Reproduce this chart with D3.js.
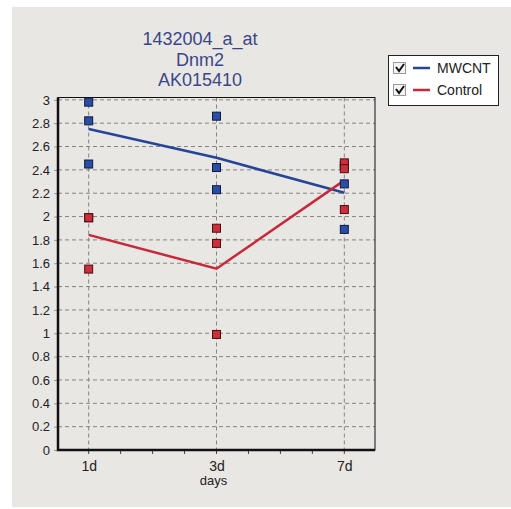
<!DOCTYPE html>
<html>
    <head>
        <meta charset="utf-8">
        <style>
        html, body {
            margin: 0px;
            background: #ffffff;
        }
        svg text {
            font-family: "Liberation Sans", Arial, sans-serif;
        }
        .grid line {
            stroke: #86847f;
            stroke-dasharray: 4,3;
            stroke-width: 1;
        }
        .ylab text {
            font-size: 13px;
            fill: #222;
        }
        </style>
    </head>
    <body>
        <svg class="chart" width="511" height="509"></svg>
        <script src="https://d3js.org/d3.v7.min.js"></script>
        <script>
            // chart values
            var days = ["1d", "3d", "7d"];
            var mwcnt = [[2.98, 2.82, 2.45], [2.86, 2.42, 2.23], [2.28, 1.89, 2.44]];
            var control = [[1.99, 1.99, 1.55], [1.90, 1.77, 0.99], [2.46, 2.41, 2.06]];
            var yTicks = [0, 0.2, 0.4, 0.6, 0.8, 1, 1.2, 1.4, 1.6, 1.8, 2, 2.2, 2.4, 2.6, 2.8, 3];
            var titleLines = ["1432004_a_at", "Dnm2", "AK015410"];
            var seriesNames = ["MWCNT", "Control"];

            var blue = "#25449a", red = "#c8283a";

            var svg = d3.select(".chart");

            // scanned-paper background
            svg.append("rect")
               .attr("x", 12).attr("y", 7)
               .attr("width", 499).attr("height", 500)
               .attr("fill", "#e9e7e4");

            var margin = {top: 97.5, left: 58, right: 375, bottom: 450};

            var x = d3.scalePoint().domain(days).range([margin.left, margin.right]).padding(0.24);
            var y = d3.scaleLinear().domain([0, 3.02]).range([margin.bottom, margin.top]);

            // dashed grid
            var grid = svg.append("g").attr("class", "grid");
            grid.selectAll(".h").data(yTicks.slice(1)).enter().append("line")
                .attr("x1", margin.left).attr("x2", margin.right)
                .attr("y1", function(d) { return y(d); })
                .attr("y2", function(d) { return y(d); });
            grid.selectAll(".v").data(days).enter().append("line")
                .attr("y1", margin.top).attr("y2", margin.bottom)
                .attr("x1", function(d) { return x(d); })
                .attr("x2", function(d) { return x(d); });

            // frame
            svg.append("rect")
               .attr("x", margin.left).attr("y", margin.top)
               .attr("width", margin.right - margin.left)
               .attr("height", margin.bottom - margin.top)
               .attr("fill", "none").attr("stroke", "#111").attr("stroke-width", 1);

            // y axis
            var yAxis = d3.axisLeft(y).tickValues(yTicks).tickSize(6).tickPadding(2)
                          .tickFormat(function(d) { return d3.format("")(+d.toFixed(1)); });
            var ya = svg.append("g").attr("class", "ylab")
                        .attr("transform", "translate(" + margin.left + ",0)")
                        .call(yAxis);
            ya.select(".domain").remove();
            ya.selectAll(".tick line").attr("stroke", "#999").attr("stroke-dasharray", "4,2");

            // x axis with minor ticks
            var sub = d3.scaleLinear().domain([0, days.length - 1]).range([x(days[0]), x(days[days.length - 1])]);
            svg.append("g").selectAll("line").data(d3.range(0, days.length - 1 + 0.01, 0.25)).enter().append("line")
               .attr("x1", function(d) { return sub(d); })
               .attr("x2", function(d) { return sub(d); })
               .attr("y1", margin.bottom).attr("y2", margin.bottom + 4)
               .attr("stroke", "#444");
            var xa = svg.append("g")
                        .attr("transform", "translate(0," + margin.bottom + ")")
                        .call(d3.axisBottom(x).tickSize(0).tickPadding(11));
            xa.select(".domain").remove();
            xa.selectAll("text").attr("font-size", "14px").attr("fill", "#222");

            svg.append("text")
               .attr("x", x("3d") - 3).attr("y", 485)
               .attr("text-anchor", "middle")
               .attr("font-size", "13px").attr("fill", "#222")
               .text("days");

            // thick axis lines
            svg.append("path")
               .attr("d", "M" + margin.left + "," + margin.top + "V" + margin.bottom + "H" + margin.right)
               .attr("fill", "none").attr("stroke", "#111").attr("stroke-width", 2.5);

            // mean lines
            var line = d3.line()
                         .x(function(d, i) { return x(days[i]); })
                         .y(function(d) { return y(d3.mean(d)); });
            svg.append("path").datum(mwcnt).attr("d", line)
               .attr("fill", "none").attr("stroke", blue).attr("stroke-width", 2.5);
            svg.append("path").datum(control).attr("d", line)
               .attr("fill", "none").attr("stroke", red).attr("stroke-width", 2.5);

            // replicate points
            function points(data, fill, stroke) {
                var flat = [];
                data.forEach(function(vals, i) {
                    vals.forEach(function(v) { flat.push({day: days[i], v: v}); });
                });
                svg.append("g").selectAll("rect").data(flat).enter().append("rect")
                   .attr("x", function(d) { return x(d.day) - 4; })
                   .attr("y", function(d) { return y(d.v) - 4; })
                   .attr("width", 8).attr("height", 8)
                   .attr("fill", fill).attr("stroke", stroke).attr("stroke-width", 1);
            }
            points(mwcnt, "#2a4ea6", "#0e1a44");
            points(control, "#cc2e3c", "#4a0e12");

            // title
            svg.append("g").selectAll("text").data(titleLines).enter().append("text")
               .attr("x", 200)
               .attr("y", function(d, i) { return 45 + i * 20.5; })
               .attr("text-anchor", "middle")
               .attr("font-size", "18px")
               .attr("fill", "#3a4688")
               .text(function(d) { return d; });

            // legend
            var lg = svg.append("g");
            lg.append("rect")
              .attr("x", 388.5).attr("y", 55.5).attr("width", 110).attr("height", 50)
              .attr("fill", "#ffffff").attr("stroke", "#222").attr("stroke-width", 1);
            var item = lg.selectAll(".item").data(seriesNames).enter().append("g")
                         .attr("transform", function(d, i) { return "translate(0," + (68 + i * 22) + ")"; });
            item.append("rect")
                .attr("x", 393.5).attr("y", -5.5).attr("width", 12).attr("height", 11)
                .attr("fill", "#f4f4f4").attr("stroke", "#999");
            item.append("path")
                .attr("d", "M396,-1 L399,3 L404,-4")
                .attr("fill", "none").attr("stroke", "#111").attr("stroke-width", 2);
            item.append("line")
                .attr("x1", 413).attr("x2", 430).attr("y1", 0).attr("y2", 0)
                .attr("stroke", function(d, i) { return i === 0 ? blue : red; })
                .attr("stroke-width", 2.5);
            item.append("text")
                .attr("x", 437).attr("y", 5)
                .attr("font-size", "14px").attr("fill", "#222")
                .text(function(d) { return d; });
        </script>
    </body>
</html>
